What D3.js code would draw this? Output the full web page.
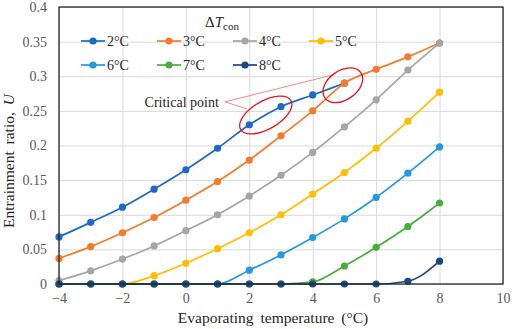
<!DOCTYPE html>
<html>
<head>
<meta charset="utf-8">
<script src="https://cdn.jsdelivr.net/npm/d3@7/dist/d3.min.js"></script>
<style>
  body { margin: 0; background: #fff; }
  text { font-family: "Liberation Serif", "Times New Roman", serif; }
</style>
</head>
<body>
<div id="chart"></div>
<script>
// evaporating temperature (°C)
var temps = [-4, -3, -2, -1, 0, 1, 2, 3, 4, 5, 6, 7, 8];
var xTicks = [-4, -2, 0, 2, 4, 6, 8, 10];
var yTicks = [0, 0.05, 0.1, 0.15, 0.2, 0.25, 0.3, 0.35, 0.4];

// entrainment ratio for each condensing temperature difference
var dT2 = [0.068, 0.089, 0.111, 0.137, 0.165, 0.196, 0.230, 0.256, 0.273, 0.290];
var dT3 = [0.037, 0.054, 0.074, 0.096, 0.121, 0.148, 0.179, 0.214, 0.250, 0.290, 0.310, 0.328, 0.348];
var dT4 = [0.005, 0.019, 0.036, 0.055, 0.077, 0.100, 0.127, 0.157, 0.190, 0.227, 0.266, 0.309, 0.348];
var dT5 = [0, 0, 0, 0.012, 0.030, 0.051, 0.074, 0.100, 0.130, 0.161, 0.196, 0.235, 0.277];
var dT6 = [0, 0, 0, 0, 0, 0, 0.020, 0.042, 0.067, 0.094, 0.125, 0.160, 0.198];
var dT7 = [0, 0, 0, 0, 0, 0, 0, 0, 0.003, 0.026, 0.053, 0.083, 0.117];
var dT8 = [0, 0, 0, 0, 0, 0, 0, 0, 0, 0, 0, 0.004, 0.033];

var seriesNames = ["2°C", "3°C", "4°C", "5°C", "6°C", "7°C", "8°C"];
var seriesValues = [dT2, dT3, dT4, dT5, dT6, dT7, dT8];
var colors = ["#1d6ac6", "#f47b2c", "#a5a5a5", "#ffbf00", "#2399df", "#48ad3d", "#1b4783"];

//Width and height
var w = 512;
var h = 329;
var margin = {top: 7, right: 9, bottom: 45, left: 59};

var svg = d3.select("#chart")
			.append("svg")
			.attr("width", w)
			.attr("height", h);

var x = d3.scaleLinear().domain([-4, 10]).range([margin.left, w - margin.right]);
var y = d3.scaleLinear().domain([0, 0.4]).range([h - margin.bottom, margin.top]);

// grid lines
svg.append("g")
   .attr("transform", "translate(0," + (h - margin.bottom) + ")")
   .call(d3.axisBottom(x).tickValues(xTicks).tickSize(-(h - margin.top - margin.bottom)).tickFormat(""))
   .call(function(g) { g.select(".domain").remove(); })
   .selectAll("line").attr("stroke", "#d9d9d9");

svg.append("g")
   .attr("transform", "translate(" + margin.left + ",0)")
   .call(d3.axisLeft(y).tickValues(yTicks).tickSize(-(w - margin.left - margin.right)).tickFormat(""))
   .call(function(g) { g.select(".domain").remove(); })
   .selectAll("line").attr("stroke", "#d9d9d9");

// tick labels
svg.append("g")
   .attr("transform", "translate(0," + (h - margin.bottom) + ")")
   .call(d3.axisBottom(x).tickValues(xTicks).tickSize(0).tickPadding(9).tickFormat(d3.format("d")))
   .call(function(g) {
		g.select(".domain").remove();
		g.selectAll("text").attr("font-size", 14).attr("fill", "#595959")
		 .style("font-family", "Liberation Serif");
   });

svg.append("g")
   .attr("transform", "translate(" + margin.left + ",0)")
   .call(d3.axisLeft(y).tickValues(yTicks).tickSize(0).tickPadding(12).tickFormat(function(d) { return d === 0 ? "0" : String(+d.toFixed(2)); }))
   .call(function(g) {
		g.select(".domain").remove();
		g.selectAll("text").attr("font-size", 14).attr("fill", "#595959")
		 .style("font-family", "Liberation Serif");
   });

// series
var line = d3.line()
			 .x(function(d) { return x(d[0]); })
			 .y(function(d) { return y(d[1]); })
			 .curve(d3.curveMonotoneX);

seriesValues.forEach(function(vals, i) {
	var pts = vals.map(function(v, j) { return [temps[j], v]; });
	svg.append("path")
	   .datum(pts)
	   .attr("d", line)
	   .attr("fill", "none")
	   .attr("stroke", colors[i])
	   .attr("stroke-width", 1.7);
	svg.append("g").selectAll("circle")
	   .data(pts)
	   .enter()
	   .append("circle")
	   .attr("cx", function(d) { return x(d[0]); })
	   .attr("cy", function(d) { return y(d[1]); })
	   .attr("r", 3.6)
	   .attr("fill", colors[i]);
});

// frame
svg.append("rect")
   .attr("x", margin.left)
   .attr("y", margin.top)
   .attr("width", w - margin.left - margin.right)
   .attr("height", h - margin.top - margin.bottom)
   .attr("fill", "none")
   .attr("stroke", "#262626")
   .attr("stroke-width", 1.3);

// legend
var legend = svg.append("g");
legend.append("text")
	  .attr("x", 205)
	  .attr("y", 27)
	  .attr("font-size", 15)
	  .attr("fill", "#262626")
	  .html('Δ<tspan font-style="italic">T</tspan><tspan font-size="11" dy="3">con</tspan>');

seriesNames.forEach(function(name, i) {
	var col = i < 4 ? i : i - 4;
	var row = i < 4 ? 0 : 1;
	var lx = 81 + col * 76;
	var ly = 41 + row * 24;
	var g = legend.append("g");
	g.append("line")
	 .attr("x1", lx).attr("x2", lx + 24)
	 .attr("y1", ly).attr("y2", ly)
	 .attr("stroke", colors[i]).attr("stroke-width", 1.7);
	g.append("circle")
	 .attr("cx", lx + 12).attr("cy", ly).attr("r", 3.6)
	 .attr("fill", colors[i]);
	g.append("text")
	 .attr("x", lx + 26).attr("y", ly + 5)
	 .attr("font-size", 14)
	 .attr("fill", "#262626")
	 .text(name);
});

// critical point annotation (data coordinates)
var labelAt = [1.23, 0.263];
var ellipses = [
	{cx: 2.52, cy: 0.244, rx: 29, ry: 14, rot: -30, tip: [1.92, 0.253]},
	{cx: 4.95, cy: 0.287, rx: 22, ry: 14.5, rot: -35, tip: [4.64, 0.302]}
];

ellipses.forEach(function(e) {
	svg.append("line")
	   .attr("x1", x(labelAt[0])).attr("y1", y(labelAt[1]))
	   .attr("x2", x(e.tip[0])).attr("y2", y(e.tip[1]))
	   .attr("stroke", "#f07c7c").attr("stroke-width", 0.9);
	svg.append("ellipse")
	   .attr("transform", "translate(" + x(e.cx) + "," + y(e.cy) + ") rotate(" + e.rot + ")")
	   .attr("rx", e.rx).attr("ry", e.ry)
	   .attr("fill", "none")
	   .attr("stroke", "#e8141e")
	   .attr("stroke-width", 1.3);
});

svg.append("text")
   .attr("x", x(labelAt[0]) - 6)
   .attr("y", y(labelAt[1]) + 5)
   .attr("text-anchor", "end")
   .attr("font-size", 14)
   .attr("fill", "#262626")
   .text("Critical point");

// axis titles
svg.append("text")
   .attr("x", 273)
   .attr("y", 323)
   .attr("text-anchor", "middle")
   .attr("font-size", 15.5)
   .attr("fill", "#262626")
   .attr("word-spacing", 3)
   .text("Evaporating temperature (°C)");

svg.append("text")
   .attr("transform", "translate(14,161) rotate(-90)")
   .attr("text-anchor", "middle")
   .attr("font-size", 15.5)
   .attr("fill", "#262626")
   .attr("word-spacing", 3)
   .html('Entrainment ratio, <tspan font-style="italic">U</tspan>');
</script>
</body>
</html>
